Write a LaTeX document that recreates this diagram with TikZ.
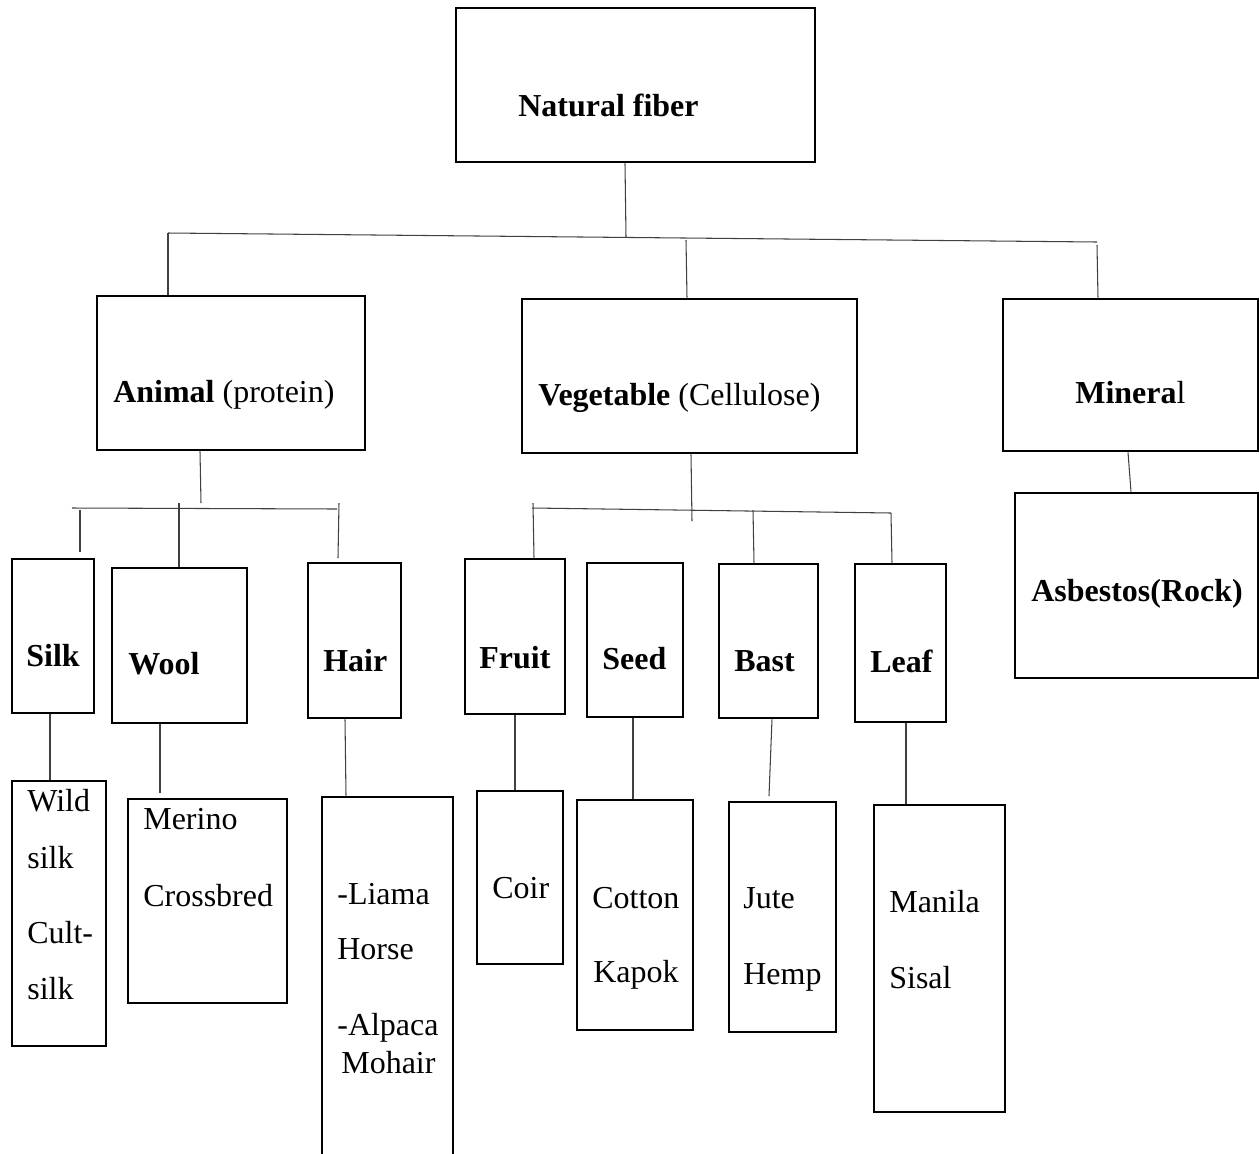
\documentclass[tikz,border=0pt]{standalone}
\usepackage{fontspec}
\setmainfont{Liberation Serif}
\begin{document}
\begin{tikzpicture}[x=0.02cm, y=-0.02cm,
  box/.style 2 args={draw, line width=1.5pt, inner sep=0pt, minimum width=#1*0.02cm, minimum height=#2*0.02cm},
  link/.style={draw=black!75, line width=0.6pt},
  txt/.style={anchor=west, inner sep=0pt, font=\fontsize{18.2}{22}\selectfont}]
  \useasboundingbox (0,0) rectangle (1259,1154);
  % top levels
  \node[box={359}{154}] (nat) at (635.5,85) {};
  \node[box={268}{154}] (anim) at (231,373) {};
  \node[box={335}{154}] (veg) at (689.5,376) {};
  \node[box={255}{152}] (mine) at (1130.5,375) {};
  \node[box={243}{185}] (asb) at (1136.5,585.5) {};
  % groups
  \node[box={82}{154}] (silk) at (53,636) {};
  \node[box={135}{155}] (wool) at (179.5,645.5) {};
  \node[box={93}{155}] (hair) at (354.5,640.5) {};
  \node[box={100}{155}] (fruit) at (515,636.5) {};
  \node[box={96}{154}] (seed) at (635,640) {};
  \node[box={99}{154}] (bast) at (768.5,641) {};
  \node[box={91}{158}] (leaf) at (900.5,643) {};
  % kinds
  \node[box={94}{265}] (silkS) at (59,913.5) {};
  \node[box={159}{204}] (woolS) at (207.5,901) {};
  \node[box={131}{383}] (hairS) at (387.5,988.5) {};
  \node[box={86}{173}] (coir) at (520,877.5) {};
  \node[box={116}{230}] (cotton) at (635,915) {};
  \node[box={107}{230}] (jute) at (782.5,917) {};
  \node[box={131}{307}] (manila) at (939.5,958.5) {};

  % texts
  \node[txt] (natT) at (518,105) {\textbf{Natural fiber}};
  \node[txt] (animT) at (113,395) {\textbf{Animal} (protein)};
  \node[txt] (vegT) at (538,398) {\textbf{Vegetable} (Cellulose)};
  \node[txt] (mineT) at (1075,393) {\textbf{Minera}l};
  \node[txt] (asbT) at (1031,594) {\textbf{Asbestos(Rock)}};
  \node[txt] (silkT) at (26,656) {\textbf{Silk}};
  \node[txt] (woolT) at (128,664) {\textbf{Wool}};
  \node[txt] (hairT) at (323,661) {\textbf{Hair}};
  \node[txt] (fruitT) at (479,658) {\textbf{Fruit}};
  \node[txt] (seedT) at (602,659) {\textbf{Seed}};
  \node[txt] (bastT) at (734,661) {\textbf{Bast}};
  \node[txt] (leafT) at (870,661) {\textbf{Leaf}};
  \node[txt] (wild) at (27,801) {Wild};
  \node[txt] (wsilk) at (27,858) {silk};
  \node[txt] (cult) at (27,933) {Cult-};
  \node[txt] (csilk) at (27,989) {silk};
  \node[txt] (merino) at (143,819) {Merino};
  \node[txt] (cross) at (143,896) {Crossbred};
  \node[txt] (liama) at (337,894) {-Liama};
  \node[txt] (horse) at (337,949) {Horse};
  \node[txt] (alpaca) at (337,1028) {-Alpaca};
  \node[txt] (mohair) at (341,1063) {Mohair};
  \node[txt] (coirT) at (492,888) {Coir};
  \node[txt] (cottonT) at (592,898) {Cotton};
  \node[txt] (kapok) at (593,975) {Kapok};
  \node[txt] (juteT) at (743,898) {Jute};
  \node[txt] (hemp) at (743,977) {Hemp};
  \node[txt] (manilaT) at (889,902) {Manila};
  \node[txt] (sisal) at (889,978) {Sisal};

  % bars and free ends
  \coordinate (top) at (626,237);
  \coordinate (barL) at (168,233);
  \coordinate (barR) at (1097,242);
  \coordinate (vegUp) at (686,240);
  \coordinate (minUp) at (1097,245);
  \coordinate (animJ) at (201,503);
  \coordinate (animBarL) at (72,508);
  \coordinate (animBarR) at (337,509);
  \coordinate (silkUp) at (80,510);
  \coordinate (silkLo) at (80,552);
  \coordinate (woolUp) at (179,503);
  \coordinate (hairUp) at (339,503);
  \coordinate (hairLo) at (338,558);
  \coordinate (woolDn) at (160,793);
  \coordinate (vegJ) at (692,521);
  \coordinate (vegBarL) at (532,508);
  \coordinate (vegBarR) at (891,513);
  \coordinate (fruitUp) at (533,503);
  \coordinate (bastUp) at (753,510);
  \coordinate (bastDn) at (769,796);

  % connectors
  \draw[link] (nat.south -| 625,0) -- (top);
  \draw[link] (barL) -- (barR);
  \draw[link] (barL) -- (anim.north -| 168,0);
  \draw[link] (vegUp) -- (veg.north -| 687,0);
  \draw[link] (minUp) -- (mine.north -| 1098,0);
  \draw[link] (mine.south -| 1128,0) -- (asb.north -| 1131,0);
  \draw[link] (anim.south -| 200,0) -- (animJ);
  \draw[link] (animBarL) -- (animBarR);
  \draw[link] (silkUp) -- (silkLo);
  \draw[link] (woolUp) -- (wool.north -| 179,0);
  \draw[link] (hairUp) -- (hairLo);
  \draw[link] (silk.south -| 50,0) -- (silkS.north -| 50,0);
  \draw[link] (wool.south -| 160,0) -- (woolDn);
  \draw[link] (hair.south -| 345,0) -- (hairS.north -| 346,0);
  \draw[link] (veg.south -| 691,0) -- (vegJ);
  \draw[link] (vegBarL) -- (vegBarR);
  \draw[link] (fruitUp) -- (fruit.north -| 534,0);
  \draw[link] (bastUp) -- (bast.north -| 754,0);
  \draw[link] (vegBarR) -- (leaf.north -| 892,0);
  \draw[link] (fruit.south -| 515,0) -- (coir.north -| 515,0);
  \draw[link] (seed.south -| 633,0) -- (cotton.north -| 633,0);
  \draw[link] (bast.south -| 772,0) -- (bastDn);
  \draw[link] (leaf.south -| 906,0) -- (manila.north -| 906,0);
\end{tikzpicture}
\end{document}
